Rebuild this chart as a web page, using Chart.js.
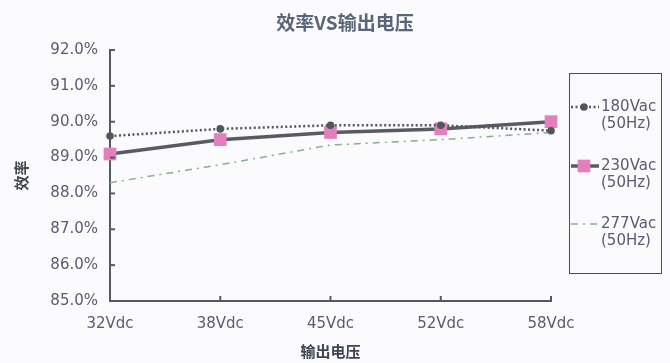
<!DOCTYPE html>
<html>
<head>
<meta charset="utf-8">
<script src="https://cdn.jsdelivr.net/npm/chart.js@4"></script>
<style>
  html, body { margin: 0; padding: 0; background: #fbfbfd; }
  #wrap { width: 670px; height: 363px; }
</style>
</head>
<body>
<div id="wrap"><canvas id="chart"></canvas></div>
<script>
const voltages = ["32Vdc", "38Vdc", "45Vdc", "52Vdc", "58Vdc"];
const eff180 = [89.6, 89.8, 89.9, 89.9, 89.75];
const eff230 = [89.1, 89.5, 89.7, 89.8, 90.0];
const eff277 = [88.3, 88.8, 89.35, 89.5, 89.7];
const seriesNames = [["180Vac", "(50Hz)"], ["230Vac", "(50Hz)"], ["277Vac", "(50Hz)"]];
const chartTitle = "效率VS输出电压";

const axisColor = "#555a60";
const textColor = "#5a5a72";

// title drawn over the whole canvas width, not just the plot box
const topTitle = {
  id: "topTitle",
  afterDraw(chart) {
    const ctx = chart.ctx;
    ctx.save();
    ctx.fillStyle = "#5a6678";
    ctx.font = "bold 19px 'Noto Sans CJK SC'";
    ctx.textAlign = "center";
    ctx.textBaseline = "middle";
    ctx.fillText(chartTitle, 345, 23);
    ctx.restore();
  }
};

// inward tick marks on both axes
const innerTicks = {
  id: "innerTicks",
  afterDatasetsDraw(chart) {
    const { ctx, scales: { x, y } } = chart;
    ctx.save();
    ctx.strokeStyle = axisColor;
    ctx.lineWidth = 2;
    y.ticks.forEach((t, i) => {
      const py = y.getPixelForTick(i);
      ctx.beginPath();
      ctx.moveTo(x.left, py);
      ctx.lineTo(x.left + 5, py);
      ctx.stroke();
    });
    x.ticks.forEach((t, i) => {
      const px = x.getPixelForTick(i);
      ctx.beginPath();
      ctx.moveTo(px, y.bottom);
      ctx.lineTo(px, y.bottom - 5);
      ctx.stroke();
    });
    ctx.restore();
  }
};

// boxed legend on the right with two-line labels
const sideLegend = {
  id: "sideLegend",
  afterDraw(chart) {
    const ctx = chart.ctx;
    const bx = 569, by = 73, bw = 92, bh = 200;
    ctx.save();
    ctx.strokeStyle = "#4a4a55";
    ctx.lineWidth = 1;
    ctx.strokeRect(bx + 0.5, by + 0.5, bw, bh);
    const rows = [107, 166, 224];
    chart.data.datasets.forEach((ds, i) => {
      const yy = rows[i];
      ctx.strokeStyle = ds.borderColor;
      ctx.lineWidth = ds.borderWidth;
      ctx.setLineDash(ds.borderDash || []);
      ctx.beginPath();
      ctx.moveTo(571, yy);
      ctx.lineTo(599, yy);
      ctx.stroke();
      ctx.setLineDash([]);
      if (ds.pointRadius > 1) {
        ctx.fillStyle = ds.pointBackgroundColor;
        if (ds.pointStyle === "rect") {
          const s = ds.pointRadius * Math.SQRT1_2;
          ctx.fillRect(584 - s, yy - s, s * 2, s * 2);
        } else {
          ctx.beginPath();
          ctx.arc(584, yy, ds.pointRadius, 0, Math.PI * 2);
          ctx.fill();
        }
      }
      ctx.fillStyle = textColor;
      ctx.font = "15px 'DejaVu Sans'";
      ctx.textBaseline = "middle";
      ctx.fillText(seriesNames[i][0], 601, yy);
      ctx.fillText(seriesNames[i][1], 601, yy + 17);
    });
    ctx.restore();
  }
};

new Chart(document.getElementById("chart"), {
  type: "line",
  data: {
    labels: voltages,
    datasets: [
      {
        label: seriesNames[0].join(" "),
        data: eff180,
        borderColor: "#50555e",
        borderWidth: 2.5,
        borderDash: [2, 2.5],
        pointStyle: "circle",
        pointRadius: 3.8,
        pointBackgroundColor: "#50555e",
        pointBorderWidth: 0,
        tension: 0
      },
      {
        label: seriesNames[1].join(" "),
        data: eff230,
        borderColor: "#585c62",
        borderWidth: 3.5,
        pointStyle: "rect",
        pointRadius: 9,
        pointBackgroundColor: "#e27fbc",
        pointBorderWidth: 0,
        tension: 0
      },
      {
        label: seriesNames[2].join(" "),
        data: eff277,
        borderColor: "#86b08c",
        borderWidth: 1.5,
        borderDash: [7, 5, 2, 5],
        pointRadius: 0,
        tension: 0
      }
    ]
  },
  options: {
    responsive: true,
    maintainAspectRatio: false,
    animation: false,
    layout: { padding: { top: 50, right: 119, left: 10, bottom: 0 } },
    plugins: {
      legend: { display: false },
      tooltip: { enabled: false },
      title: { display: false }
    },
    scales: {
      x: {
        offset: false,
        afterFit: s => { s.height = 62; },
        grid: { display: false, drawTicks: false },
        border: { color: axisColor, width: 2 },
        ticks: { color: textColor, font: { family: "'DejaVu Sans'", size: 15 }, padding: 14 },
        title: {
          display: true,
          text: "输出电压",
          color: "#3e4450",
          font: { family: "'Noto Sans CJK SC'", size: 15, weight: "bold" },
          padding: { top: 0, bottom: 3 }
        }
      },
      y: {
        min: 85,
        max: 92,
        afterFit: s => { s.width = 100; },
        grid: { display: false, drawTicks: false },
        border: { color: axisColor, width: 2 },
        ticks: {
          stepSize: 1,
          color: textColor,
          font: { family: "'DejaVu Sans'", size: 15 },
          padding: 12,
          callback: v => v.toFixed(1) + "%"
        },
        title: {
          display: true,
          text: "效率",
          color: "#3e4450",
          font: { family: "'Noto Sans CJK SC'", size: 15, weight: "bold" },
          padding: { top: 2, bottom: 10 }
        }
      }
    }
  },
  plugins: [topTitle, innerTicks, sideLegend]
});
</script>
</body>
</html>
